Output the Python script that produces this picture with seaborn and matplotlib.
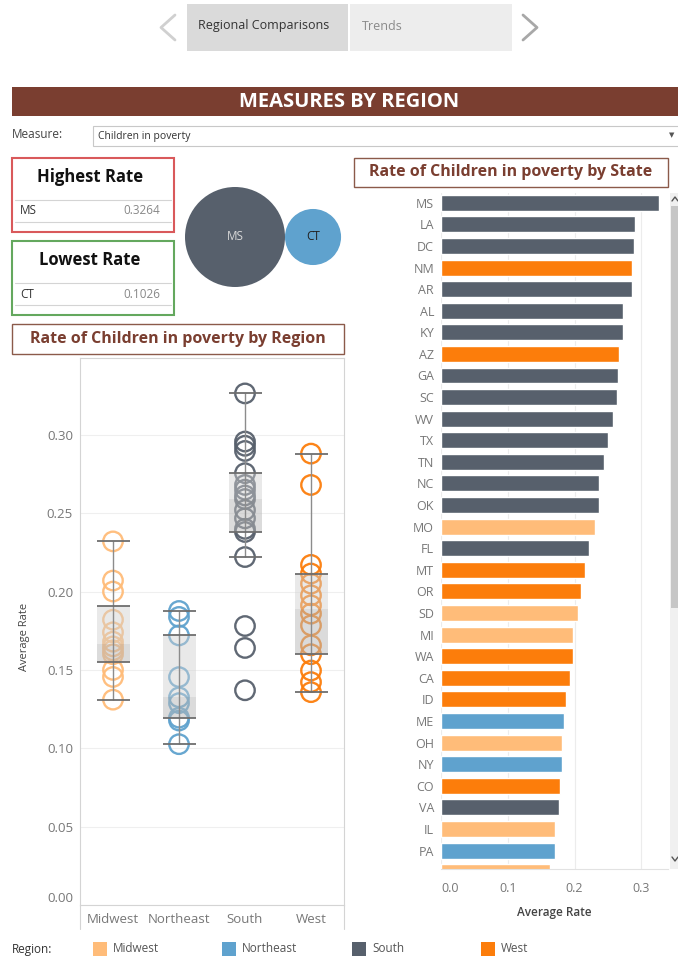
import numpy as np
import pandas as pd
import matplotlib.pyplot as plt
import matplotlib.patches as mpatches
import seaborn as sns

# ---- data ----
regions = ['Midwest', 'Northeast', 'South', 'West']
region_colors = ['#ffbc79', '#5fa2ce', '#57606c', '#fc7d0b']

midwest_rates = [0.232, 0.207, 0.200, 0.182, 0.174, 0.168, 0.165, 0.1625, 0.160, 0.150, 0.1455, 0.131]
northeast_rates = [0.1876, 0.1838, 0.172, 0.1454, 0.1325, 0.1288, 0.1195, 0.1177, 0.1026]
south_rates = [0.3264, 0.2957, 0.293, 0.2897, 0.2755, 0.268, 0.265, 0.2613, 0.259, 0.252,
               0.2467, 0.240, 0.238, 0.222, 0.178, 0.164, 0.137]
west_rates = [0.288, 0.268, 0.217, 0.2115, 0.205, 0.1976, 0.1912, 0.1859, 0.1784, 0.1657,
              0.160, 0.1496, 0.1422, 0.1358]

bar_states = ['MS', 'LA', 'DC', 'NM', 'AR', 'AL', 'KY', 'AZ', 'GA', 'SC', 'WV', 'TX', 'TN', 'NC',
              'OK', 'MO', 'FL', 'MT', 'OR', 'SD', 'MI', 'WA', 'CA', 'ID', 'ME', 'OH', 'NY', 'CO',
              'VA', 'IL', 'PA', 'KS']
bar_rates = [0.3264, 0.291, 0.289, 0.286, 0.286, 0.273, 0.273, 0.266, 0.265, 0.263, 0.258, 0.250,
             0.244, 0.237, 0.237, 0.231, 0.221, 0.215, 0.210, 0.205, 0.197, 0.197, 0.193, 0.187,
             0.184, 0.181, 0.181, 0.178, 0.176, 0.171, 0.170, 0.163]
bar_regions = ['South', 'South', 'South', 'West', 'South', 'South', 'South', 'West', 'South',
               'South', 'South', 'South', 'South', 'South', 'South', 'Midwest', 'South', 'West',
               'West', 'Midwest', 'Midwest', 'West', 'West', 'West', 'Northeast', 'Midwest',
               'Northeast', 'West', 'South', 'Midwest', 'Northeast', 'Midwest']

extreme_states = ['MS', 'CT']
extreme_rates = [0.3264, 0.1026]
extreme_regions = ['South', 'Northeast']

palette = dict(zip(regions, region_colors))
W, H = 678, 960


def rect(x0, y0, x1, y1):
    # pixel box -> figure fraction
    return [x0 / W, 1 - y1 / H, (x1 - x0) / W, (y1 - y0) / H]


def hinges(vals):
    v = np.sort(vals)
    n = len(v)
    h = (n + 1) // 2
    q1, med, q3 = np.median(v[:h]), np.median(v), np.median(v[n - h:])
    iqr = q3 - q1
    lo = v[v >= q1 - 1.5 * iqr].min()
    hi = v[v <= q3 + 1.5 * iqr].max()
    return lo, q1, med, q3, hi


sns.set_theme(style='white')
plt.rcParams['font.family'] = ['Open Sans', 'DejaVu Sans']

fig = plt.figure(figsize=(W / 100, H / 100), dpi=100)
bg = fig.add_axes([0, 0, 1, 1])
bg.set_xlim(0, W)
bg.set_ylim(H, 0)
bg.axis('off')

# ---- top navigation ----
bg.plot([175, 161, 175], [15, 27.5, 40], color='#d0d0d0', lw=2)
bg.plot([523, 537, 523], [15, 27.5, 40], color='#a8a8a8', lw=2)
bg.add_patch(mpatches.Rectangle((187, 4), 161, 47, color='#dadada', lw=0))
bg.add_patch(mpatches.Rectangle((350, 4), 162, 47, color='#ededed', lw=0))
bg.text(198, 26, 'Regional Comparisons', fontsize=9, color='#333333', va='center')
bg.text(362, 26, 'Trends', fontsize=9, color='#8a8a8a', va='center')

# ---- header ----
bg.add_patch(mpatches.Rectangle((12, 87), 666, 29, color='#7a3e30', lw=0))
bg.text(349, 102, 'MEASURES BY REGION', fontsize=14.5, color='white', fontweight='bold',
        ha='center', va='center')
bg.text(12, 135, 'Measure:', fontsize=8.5, color='#444444', va='center')
bg.add_patch(mpatches.Rectangle((93, 126), 590, 20, fc='white', ec='#c8c8c8', lw=0.8))
bg.text(98, 136, 'Children in poverty', fontsize=7.5, color='#333333', va='center')
bg.text(672, 136, '▼', fontsize=5, color='#555555', va='center', ha='center')

# ---- highest / lowest cards ----
for top, title, col, idx in [(158, 'Highest Rate', '#d9595b', 0), (241, 'Lowest Rate', '#64a85e', 1)]:
    bg.add_patch(mpatches.Rectangle((12, top), 162, 74, fill=False, ec=col, lw=1.5))
    bg.text(90, top + 19, title, fontsize=12, fontweight='bold', color='#111111',
            ha='center', va='center')
    bg.plot([15, 171], [top + 42, top + 42], color='#d4d4d4', lw=0.8)
    bg.plot([15, 171], [top + 64, top + 64], color='#d4d4d4', lw=0.8)
    bg.text(20, top + 53, extreme_states[idx], fontsize=8.5, color='#333333', va='center')
    bg.text(160, top + 53, f'{extreme_rates[idx]:.4f}', fontsize=8.5, color='#888888',
            va='center', ha='right')

# ---- packed bubbles (area ~ rate) ----
k = 50 / np.sqrt(max(extreme_rates))
radii = [k * np.sqrt(v) for v in extreme_rates]
cx = 185
for st, rg, r in zip(extreme_states, extreme_regions, radii):
    bg.add_patch(mpatches.Circle((cx + r, 237), r, color=palette[rg], lw=0))
    bg.text(cx + r, 237, st, fontsize=8.5, ha='center', va='center',
            color='#d8d8d8' if rg == 'South' else '#222222')
    cx += 2 * r

# ---- chart titles ----
bg.add_patch(mpatches.Rectangle((12, 324), 332, 30, fill=False, ec='#8b5a4a', lw=1))
bg.text(178, 339, 'Rate of Children in poverty by Region', fontsize=11.5, fontweight='bold',
        color='#7a3e30', ha='center', va='center')
bg.add_patch(mpatches.Rectangle((354, 158), 314, 29, fill=False, ec='#8b5a4a', lw=1))
bg.text(511, 172.5, 'Rate of Children in poverty by State', fontsize=11.5, fontweight='bold',
        color='#7a3e30', ha='center', va='center')

# ---- box plot by region ----
df = pd.DataFrame({
    'Region': sum([[r] * len(v) for r, v in zip(regions, [midwest_rates, northeast_rates,
                                                          south_rates, west_rates])], []),
    'Rate': midwest_rates + northeast_rates + south_rates + west_rates,
})
ax = fig.add_axes(rect(80, 358, 344, 905))
sns.stripplot(data=df, x='Region', y='Rate', hue='Region', order=regions, palette=palette,
              jitter=False, size=14, linewidth=1.7, alpha=0.95, legend=False, ax=ax)
for c in ax.collections:
    c.set_edgecolor(c.get_facecolor())
    c.set_facecolor('none')

for i, vals in enumerate([midwest_rates, northeast_rates, south_rates, west_rates]):
    lo, q1, med, q3, hi = hinges(vals)
    ax.bar(i, q3 - med, bottom=med, width=0.5, color='#d0d0d0', alpha=0.45, zorder=3, lw=0)
    ax.bar(i, med - q1, bottom=q1, width=0.5, color='#b8b8b8', alpha=0.5, zorder=3, lw=0)
    ax.vlines(i, lo, hi, color='#8c8c8c', lw=1, zorder=4)
    ax.hlines([lo, q1, q3, hi], i - 0.25, i + 0.25, color='#6e6e6e', lw=1.3, zorder=5)

ax.set_xlim(-0.5, 3.5)
ax.set_ylim(0, 0.349)
ax.set_yticks(np.arange(0, 0.31, 0.05))
ax.set_yticklabels([f'{t:.2f}' for t in np.arange(0, 0.31, 0.05)])
ax.get_yticklabels()[0].set_va('bottom')
ax.yaxis.grid(True, color='#efefef', lw=0.8)
ax.set_axisbelow(True)
ax.tick_params(length=0, labelsize=9.5, labelcolor='#777777')
ax.tick_params(axis='y', pad=5)
ax.tick_params(axis='x', pad=6)
ax.set_xlabel('')
ax.set_ylabel('Average Rate', fontsize=8, color='#444444')
ax.yaxis.set_label_coords(-0.19, 0.49)
for s in ax.spines.values():
    s.set_color('#d4d4d4')
    s.set_linewidth(0.8)
bg.plot([80, 80], [905, 929], color='#d4d4d4', lw=0.8)
bg.plot([344, 344], [905, 929], color='#d4d4d4', lw=0.8)

# ---- bar chart by state ----
bx = fig.add_axes(rect(441, 193, 668, 869))
sns.barplot(x=bar_rates, y=bar_states, hue=bar_regions, palette=palette, dodge=False,
            saturation=1, width=0.74, legend=False, orient='h', ax=bx)
bx.set_xlim(0, 0.34)
bx.set_ylim(30.85, -0.45)
bx.set_xticks([0, 0.1, 0.2, 0.3])
bx.set_xticklabels(['0.0', '0.1', '0.2', '0.3'])
bx.get_xticklabels()[0].set_ha('left')
bx.xaxis.grid(True, color='#ececec', lw=0.8)
bx.set_axisbelow(True)
bx.tick_params(length=0, labelsize=9, labelcolor='#777777')
bx.tick_params(axis='y', pad=5)
bx.tick_params(axis='x', pad=9)
bx.set_ylabel('')
bx.set_xlabel('Average Rate', fontsize=8.5, color='#444444', fontweight='semibold')
bx.xaxis.set_label_coords(0.5, -0.065)
bx.xaxis.label.set_va('center')
for name, s in bx.spines.items():
    s.set_visible(name == 'bottom')
bx.spines['bottom'].set_color('#e2e2e2')
bx.spines['bottom'].set_linewidth(0.8)

# scrollbar
bg.add_patch(mpatches.Rectangle((670, 193), 8, 676, color='#f0f0f0', lw=0))
bg.add_patch(mpatches.Rectangle((671, 206), 7, 402, color='#c6c6c6', lw=0))
bg.plot([672, 675, 678], [201, 197, 201], color='#555555', lw=1)
bg.plot([672, 675, 678], [857, 861, 857], color='#555555', lw=1)

# ---- legend ----
bg.text(12, 949, 'Region:', fontsize=8.5, color='#333333', va='center')
for x0, rg in zip([93, 222, 352, 481], regions):
    bg.add_patch(mpatches.Rectangle((x0, 942), 14, 14, color=palette[rg], lw=0))
    bg.text(x0 + 20, 949, rg, fontsize=8.5, color='#555555', va='center')

fig.savefig('out.png', dpi=100)
